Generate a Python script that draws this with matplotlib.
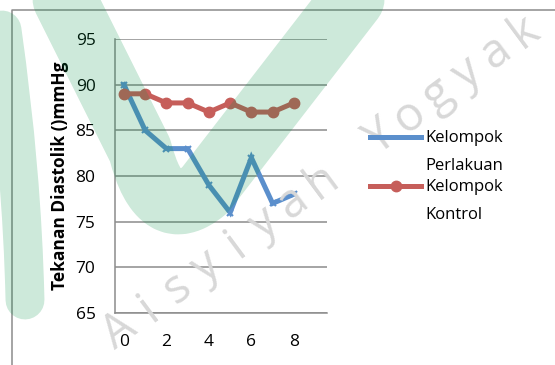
import numpy as np
import matplotlib.pyplot as plt
from matplotlib.patches import PathPatch
from matplotlib.path import Path
from matplotlib.lines import Line2D

plt.rcParams['font.family'] = ['Open Sans', 'DejaVu Sans']

# data
waktu = [0, 1, 2, 3, 4, 5, 6, 7, 8]
perlakuan = [90, 85, 83, 83, 79, 76, 82, 77, 78]
kontrol = [89, 89, 88, 88, 87, 88, 87, 87, 88]
y_ticks = [65, 70, 75, 80, 85, 90, 95]
x_ticks = [0, 2, 4, 6, 8]

W, H = 555, 365
fig = plt.figure(figsize=(W / 100, H / 100), dpi=100)


def px(x, y):
    # pixel coords (origin top-left) -> figure fraction
    return (x / W, 1 - y / H)


# watermark text, under everything
wm = "Universitas 'Aisyiyah Yogyakarta"
ang = np.deg2rad(36.5)
step = 36
for i, ch in enumerate(wm):
    if i < 13 or i > 27:
        continue
    d = (i - 22) * step
    cx, cy = 380 + d * np.cos(ang), 138 - d * np.sin(ang)
    fig.text(*px(cx, cy), ch, rotation=36.5, fontsize=34, color='#d8d8d8',
             ha='center', va='center', rotation_mode='anchor', zorder=0)

ax = fig.add_axes([115 / W, 1 - 313 / H, 212 / W, 274 / H])
ax.set_facecolor('none')

blue, red = '#5b8fcc', '#c65e5a'
ax.plot(waktu, perlakuan, color=blue, lw=3.6, marker='x', ms=4, mew=1.5,
        solid_joinstyle='miter', zorder=3)
ax.plot(waktu, kontrol, color=red, lw=3.6, marker='o', ms=7.5, zorder=3)

ax.set_xlim(-0.42, 9.56)
ax.set_ylim(65, 95)
ax.set_yticks(y_ticks)
ax.set_xticks(x_ticks)
ax.grid(axis='y', color='#8c8c8c', lw=1.1)
ax.set_axisbelow(True)
for s in ['top', 'right']:
    ax.spines[s].set_visible(False)
for s in ['left', 'bottom']:
    ax.spines[s].set_color('#8c8c8c')
    ax.spines[s].set_linewidth(1.1)
ax.tick_params(axis='y', length=0, pad=14, labelsize=12.5)
ax.tick_params(axis='x', length=0, pad=15, labelsize=12.5)

fig.text(*px(60, 176), 'Tekanan Diastolik ()mmHg', rotation=90, fontsize=12.5,
         fontweight='bold', ha='center', va='center')

# legend, drawn by hand so the line sits on the first text line
leg = [(blue, None, 137, 'Kelompok\nPerlakuan'),
       (red, 'o', 186, 'Kelompok\nKontrol')]
for col, mk, yy, lab in leg:
    x0, y0 = px(370, yy)
    x1, _ = px(421, yy)
    fig.add_artist(Line2D([x0, x1], [y0, y0], color=col, lw=3.6))
    if mk:
        fig.add_artist(Line2D([(x0 + x1) / 2], [y0], color=col, marker=mk, ms=7.5))
    fig.text(*px(425, yy - 7), lab, fontsize=12, va='top', ha='left',
             linespacing=2.0)

# outer chart frame
fig.add_artist(Line2D([12 / W, 12 / W, 1], [0, 1 - 10 / H, 1 - 10 / H],
                      color='#8c8c8c', lw=1.1))

# green logo strokes of the watermark, laid over the plot
green = '#059146'
strokes = [
    ([(50, -30), (140, 150), (160, 228), (205, 190), (375, -30)],
     [Path.MOVETO, Path.LINETO, Path.CURVE3, Path.CURVE3, Path.LINETO]),
    ([(2, 30), (22, 170), (25, 300)],
     [Path.MOVETO, Path.CURVE3, Path.CURVE3]),
]
widths = [46, 28]
for (pts, codes), lw in zip(strokes, widths):
    path = Path([px(*p) for p in pts], codes)
    fig.add_artist(PathPatch(path, transform=fig.transFigure, fill=False,
                             edgecolor=green, lw=lw, alpha=0.2,
                             capstyle='round', joinstyle='round', zorder=5))

fig.savefig('out.png', dpi=100)
